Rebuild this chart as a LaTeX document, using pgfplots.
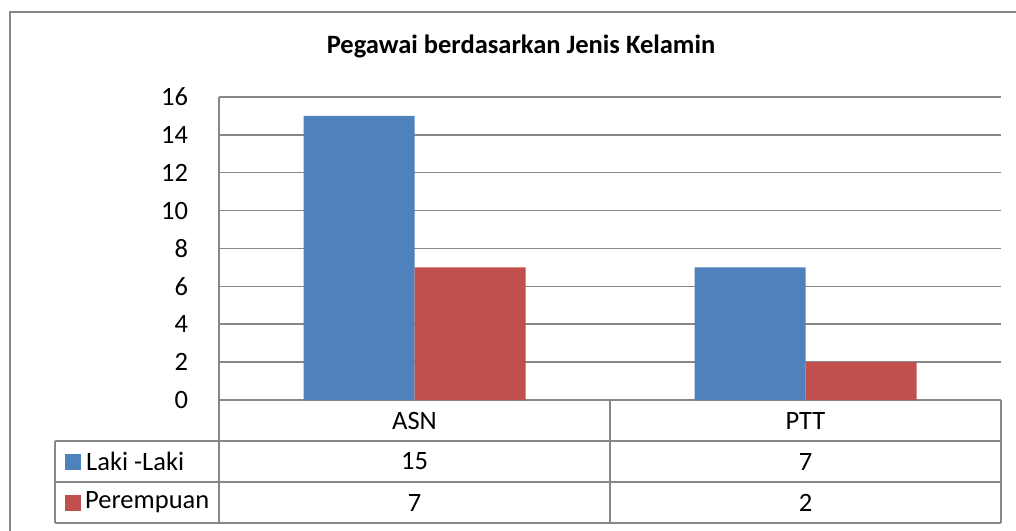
\documentclass[border=0pt]{standalone}
\usepackage{pgfplots}
\pgfplotsset{compat=1.18}
\usepackage{fontspec}
\setmainfont{Carlito}
\definecolor{barblue}{HTML}{4F81BD}
\definecolor{barred}{HTML}{C0504D}
\definecolor{gridgray}{HTML}{878787}
\begin{document}
\begin{tikzpicture}[x=1pt,y=1pt]
\clip (0,0) rectangle (1016,530);
\fontsize{26.5}{30}\selectfont
% outer frame
\draw[gridgray, line width=1.5pt] (10,518) rectangle (1040,-30);
\begin{axis}[
  at={(219pt,130pt)}, anchor=south west,
  scale only axis, width=782pt, height=303pt,
  xmin=0.5, xmax=2.5, ymin=0, ymax=16,
  ytick={0,2,...,16}, xtick=\empty,
  ybar=0pt, bar width=111pt,
  axis x line*=bottom, axis y line*=left,
  axis line style={gridgray, line width=1.5pt, -},
  ymajorgrids, grid style={gridgray, line width=1.5pt},
  major tick length=0pt,
  tick label style={font=\fontsize{26.5}{30}\selectfont},
  yticklabel style={anchor=east, xshift=-22pt},
  /pgf/number format/assume math mode=true,
  clip=false,
]
\addplot[fill=barblue, draw=none] coordinates {(1,15) (2,7)};
\addplot[fill=barred, draw=none] coordinates {(1,7) (2,2)};
\end{axis}
% data table
\begin{scope}[gridgray, line width=1.5pt]
\draw (55,89) -- (1001,89);
\draw (55,48) -- (1001,48);
\draw (55,7) -- (1001,7);
\draw (55,89) -- (55,7);
\draw (219,130) -- (219,7);
\draw (610,130) -- (610,7);
\draw (1001,130) -- (1001,7);
\end{scope}
\node at (414.5,109.5) {ASN};
\node at (805.5,109.5) {PTT};
\node at (414.5,68.5) {15};
\node at (805.5,68.5) {7};
\node at (414.5,27.5) {7};
\node at (805.5,27.5) {2};
\fill[barblue] (65,60) rectangle (81,76);
\node[anchor=west, inner sep=0pt] at (86,68.5) {Laki -Laki};
\fill[barred] (65,19) rectangle (81,35);
\node[anchor=west, inner sep=0pt] at (85,27.5) {Perempuan};
% title
\node[anchor=base, font=\fontsize{26.5}{30}\selectfont\bfseries] at (521,476) {Pegawai berdasarkan Jenis Kelamin};
\end{tikzpicture}
\end{document}
